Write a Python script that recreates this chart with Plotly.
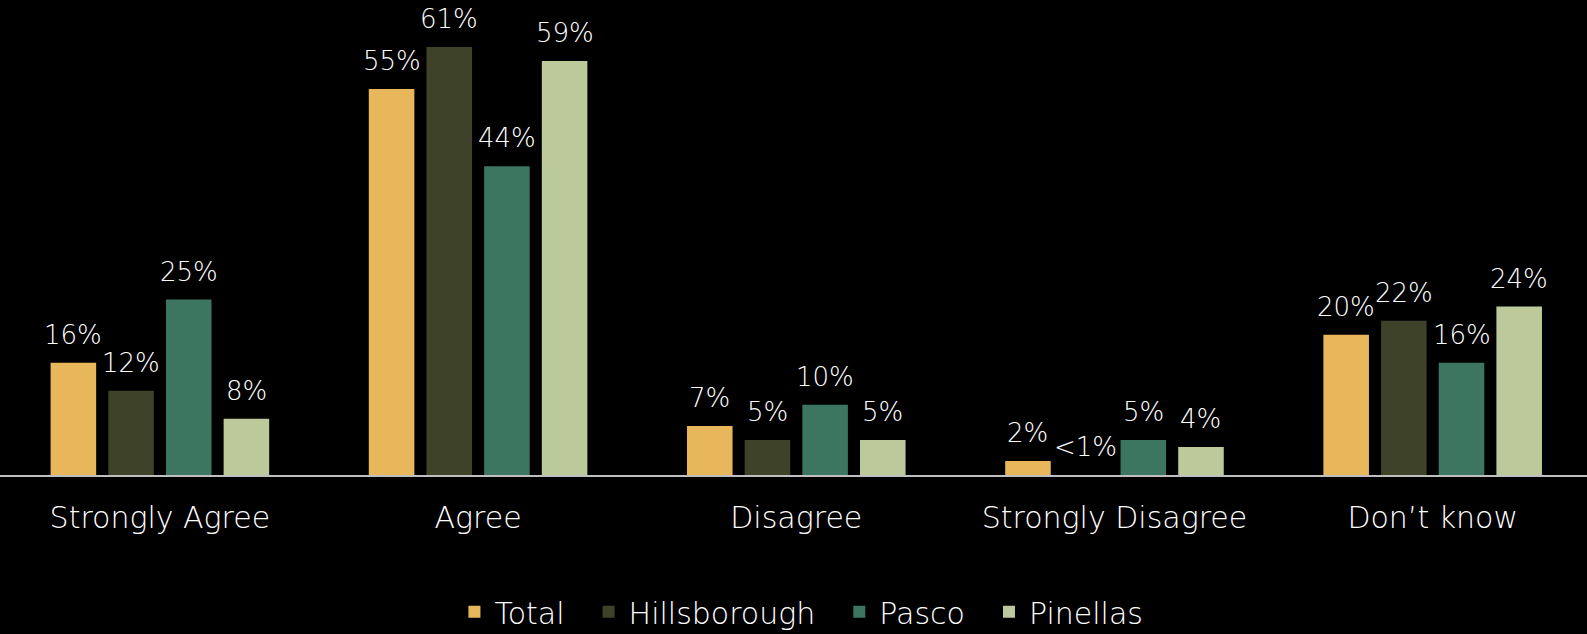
import plotly.graph_objects as go

categories = ["Strongly Agree", "Agree", "Disagree", "Strongly Disagree", "Don\u2019t know"]
series_names = ["Total", "Hillsborough", "Pasco", "Pinellas"]
total = [16, 55, 7, 2, 20]
hillsborough = [12, 61, 5, 0, 22]
pasco = [25, 44, 10, 5, 16]
pinellas = [8, 59, 5, 4, 24]
labels_total = ["16%", "55%", "7%", "2%", "20%"]
labels_hills = ["12%", "61%", "5%", "<1%", "22%"]
labels_pasco = ["25%", "44%", "10%", "5%", "16%"]
labels_pin = ["8%", "59%", "5%", "4%", "24%"]
colors = ["#E8B75C", "#3D4228", "#3C7660", "#BCC99A"]

FONT = "DejaVu Sans"
W = 200
BARGAP = 0.275
BARGROUPGAP = 0.21
NBSP = "\u00a0"

all_vals = [total, hillsborough, pasco, pinellas]
all_labs = [labels_total, labels_hills, labels_pasco, labels_pin]
n = len(series_names)
slot = (1 - BARGAP) / n

fig = go.Figure()
annotations = []
for i, (name, vals, labs, col) in enumerate(zip(series_names, all_vals, all_labs, colors)):
    legend_name = name + (NBSP * 2 if i < n - 1 else "")
    fig.add_trace(go.Bar(
        name=legend_name, x=categories, y=vals,
        marker=dict(color=col, line=dict(width=0)),
        hoverinfo="skip",
    ))
    for j, (v, lab) in enumerate(zip(vals, labs)):
        annotations.append(dict(
            x=j + (i - (n - 1) / 2) * slot, y=v, xref="x", yref="y",
            text=lab, showarrow=False, xanchor="center", yanchor="bottom", yshift=11,
            font=dict(color="white", size=26, family=FONT, weight=W),
        ))

fig.update_layout(
    width=1587, height=634,
    paper_bgcolor="black", plot_bgcolor="black",
    margin=dict(l=0, r=0, t=0, b=159, autoexpand=False),
    barmode="group", bargap=BARGAP, bargroupgap=BARGROUPGAP,
    font=dict(family=FONT, color="white", weight=W),
    showlegend=True,
    annotations=annotations,
    legend=dict(orientation="h", x=0.505, xanchor="center", y=-0.288, yanchor="middle",
                font=dict(size=30, color="white", family=FONT, weight=W),
                bgcolor="rgba(0,0,0,0)", itemwidth=30, traceorder="normal"),
    xaxis=dict(showgrid=False, showline=True, linecolor="#BFBFBF", linewidth=2,
               range=[-0.5025, 4.485],
               tickfont=dict(size=30, color="white", family=FONT, weight=W),
               ticks="", ticklabelstandoff=15),
    yaxis=dict(visible=False, range=[0, 67.7], showgrid=False, zeroline=False),
)

fig.write_html("out.html", config={"displayModeBar": False},
               post_script="document.body.style.margin='0';document.body.style.background='black';")
